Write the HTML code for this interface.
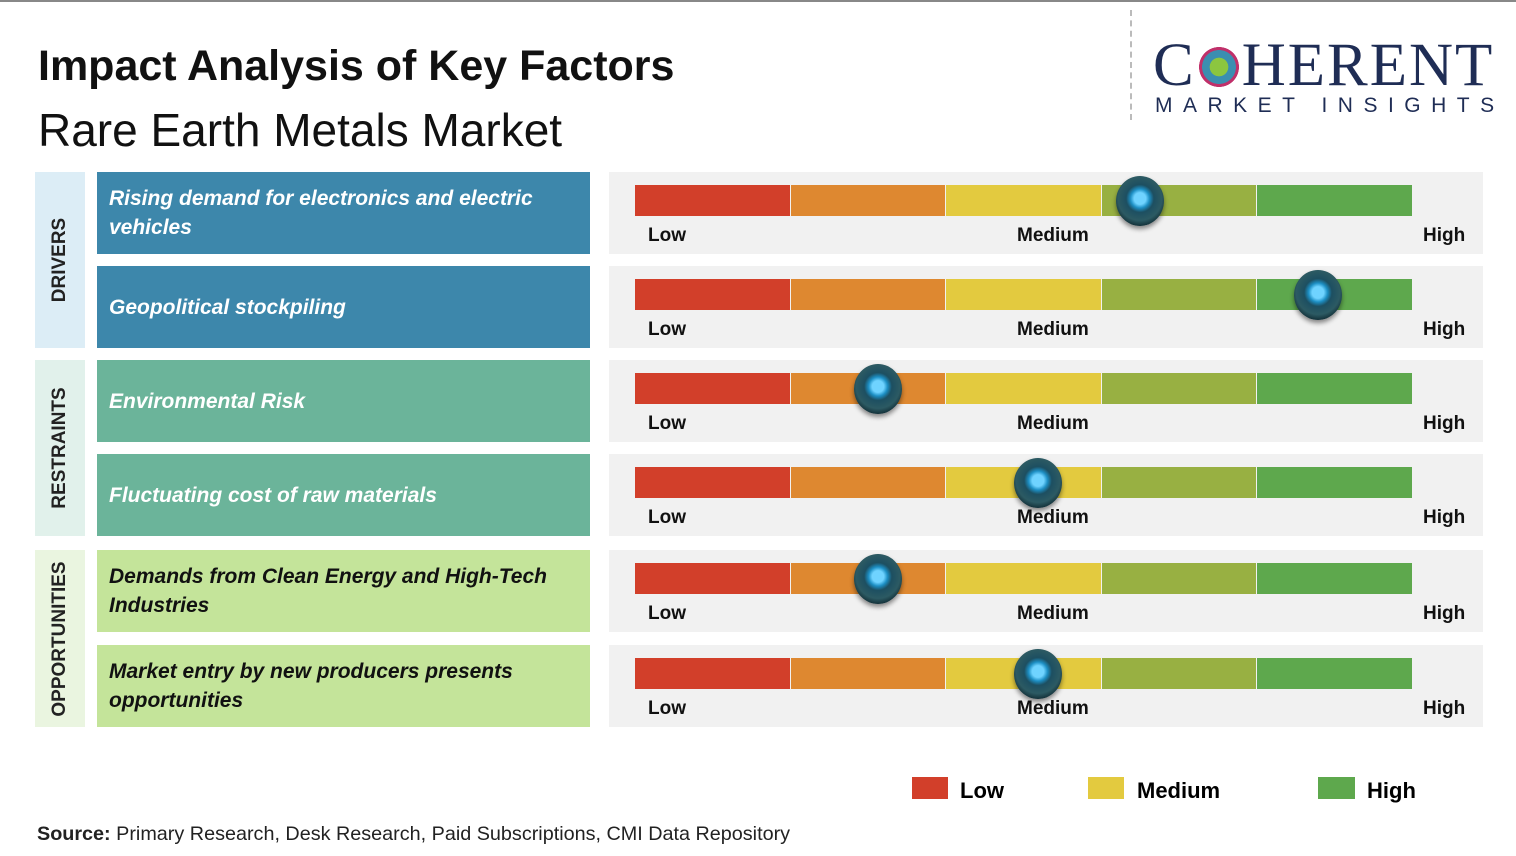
<!DOCTYPE html>
<html><head><meta charset="utf-8"><style>
body{margin:0;width:1516px;height:856px;background:#fff;font-family:"Liberation Sans","DejaVu Sans",sans-serif;position:relative;overflow:hidden}
.a{position:absolute}
.cat{position:absolute;left:35px;width:50px}
.cat span{position:absolute;left:50%;top:50%;transform:translate(-50%,-50%) rotate(-90deg);font-weight:bold;font-size:19px;white-space:nowrap;color:#222}
.lbl{position:absolute;left:97px;width:493px;height:82px;display:flex;align-items:center;box-sizing:border-box;padding:0 12px;font-weight:bold;font-style:italic;font-size:21px;line-height:29px}
.panel{position:absolute;left:609px;width:874px;height:82px;background:#f1f1f1}
.tk{position:absolute;font-weight:bold;font-size:19px;color:#111}
</style></head><body>
<div class="a" style="left:0;top:0;width:1516px;height:2px;background:#888"></div>
<div class="a" style="left:38px;top:42px;font-size:43px;font-weight:bold;color:#111">Impact Analysis of Key Factors</div>
<div class="a" style="left:38px;top:103px;font-size:46px;color:#111">Rare Earth Metals Market</div>
<div class="a" style="left:1130px;top:10px;height:110px;border-left:2px dashed #bbb"></div>
<div class="a" style="left:1153px;top:36px;font-family:'Liberation Serif',serif;font-size:61px;color:#1f2d55;letter-spacing:2px;line-height:60px">C<span style="display:inline-block;width:46px;height:40px;vertical-align:-2px;background:radial-gradient(circle,#8cc63f 0 30%,#3b8eb0 31% 55%,#c0306a 56% 65%,transparent 66%)"></span>HERENT</div>
<div class="a" style="left:1155px;top:94px;font-size:21px;color:#1f2d55;letter-spacing:10.5px">MARKET INSIGHTS</div>

<div class="cat" style="top:172px;height:176px;background:#dcedf6"><span>DRIVERS</span></div>
<div class="cat" style="top:360px;height:176px;background:#e1f1eb"><span>RESTRAINTS</span></div>
<div class="cat" style="top:550px;height:177px;background:#eaf5e0"><span>OPPORTUNITIES</span></div>

<div id="rows"></div>

<div class="a" style="left:912px;top:777px;width:36px;height:22px;background:#d23f2a"></div>
<div class="a" style="left:960px;top:778px;font-size:22px;font-weight:bold">Low</div>
<div class="a" style="left:1088px;top:777px;width:36px;height:22px;background:#e3ca3f"></div>
<div class="a" style="left:1137px;top:778px;font-size:22px;font-weight:bold">Medium</div>
<div class="a" style="left:1318px;top:777px;width:37px;height:22px;background:#5ea84d"></div>
<div class="a" style="left:1367px;top:778px;font-size:22px;font-weight:bold">High</div>

<div class="a" style="left:37px;top:823px;font-size:19.8px;color:#222"><b>Source:</b> Primary Research, Desk Research, Paid Subscriptions, CMI Data Repository</div>

<script>
const factors=["Rising demand for electronics and electric vehicles","Geopolitical stockpiling","Environmental Risk","Fluctuating cost of raw materials","Demands from Clean Energy and High-Tech Industries","Market entry by new producers presents opportunities"];
const impact=[0.649,0.878,0.312,0.518,0.312,0.518];
const tickLabels=["Low","Medium","High"];
const rowTops=[172,266,360,454,550,645];
const lblBg=["#3d87ab","#3d87ab","#6bb49a","#6bb49a","#c4e49a","#c4e49a"];
const lblFg=["#fff","#fff","#fff","#fff","#111","#111"];
const segColors=["#d23f2a","#de8830","#e3ca3f","#98b042","#5ea84d"];
const barX0=635,barW=778;
const xScale=v=>barX0+v*barW;
const root=document.getElementById('rows');
factors.forEach((f,i)=>{
  const t=rowTops[i];
  const l=document.createElement('div');l.className='lbl';
  
  
  l.style.top=t+'px';l.style.background=lblBg[i];l.style.color=lblFg[i];l.textContent=f;root.appendChild(l);
  const p=document.createElement('div');p.className='panel';
  
  
  p.style.top=t+'px';root.appendChild(p);
  segColors.forEach((c,k)=>{
    const s=document.createElement('div');s.className='a';
    
    
    s.style.cssText=`left:${xScale(k/5)}px;top:${t+13}px;width:${barW/5-1}px;height:31px;background:${c}`;root.appendChild(s);
  });
  [0,0.5,1].forEach((v,k)=>{
    const tk=document.createElement('div');tk.className='tk';
    
    
    tk.textContent=tickLabels[k];
    const x=k==0?xScale(0)+13:(k==1?xScale(0.5)-7:xScale(1)+10);
    tk.style.left=x+'px';tk.style.top=(t+53)+'px';root.appendChild(tk);
  });
  const kn=document.createElement('div');kn.className='a';
  
  
  kn.style.cssText=`left:${xScale(impact[i])-24}px;top:${t+4}px;width:48px;height:50px;border-radius:50%;background:radial-gradient(circle at 50% 45%,#6fd3ff 0 16%,#1d8fc4 26%,#1d4f61 38%,#2c5a63 60%,#14323a 75%);box-shadow:0 3px 5px rgba(0,0,0,.45)`;
  root.appendChild(kn);
});
</script>
</body></html>
